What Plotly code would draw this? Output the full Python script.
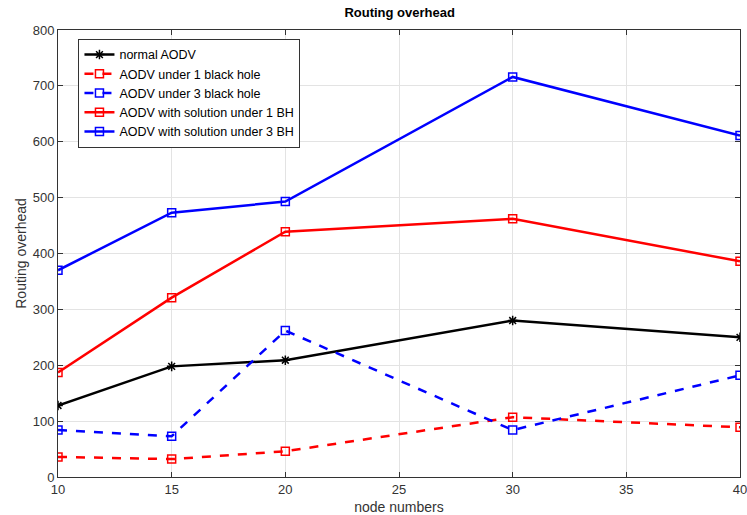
import plotly.graph_objects as go

nodes = [10, 15, 20, 30, 40]
normal_aodv = [128, 198, 209, 280, 250]
aodv_1bh = [36, 32, 46, 107, 89]
aodv_3bh = [84, 73, 262, 84, 182]
sol_1bh = [187, 321, 439, 462, 386]
sol_3bh = [370, 473, 493, 716, 611]

series = [
    ("normal AODV", normal_aodv, "black", "solid", "asterisk-open"),
    ("AODV under 1 black hole", aodv_1bh, "#ff0000", "dash", "square-open"),
    ("AODV under 3 black hole", aodv_3bh, "#0000ff", "dash", "square-open"),
    ("AODV with solution under 1 BH", sol_1bh, "#ff0000", "solid", "square-open"),
    ("AODV with solution under 3 BH", sol_3bh, "#0000ff", "solid", "square-open"),
]

fig = go.Figure()
for name, ys, color, dash, sym in series:
    fig.add_trace(go.Scatter(
        x=nodes, y=ys, name=name, mode="lines+markers",
        line=dict(color=color, width=2.5, dash=dash),
        marker=dict(symbol=sym, size=8, color=color, line=dict(color=color, width=1.5)),
    ))

axis_common = dict(
    showline=True, linecolor="#333333", linewidth=1, mirror="ticks",
    ticks="inside", ticklen=5, tickcolor="#333333",
    showgrid=True, gridcolor="#e3e3e3", gridwidth=1, zeroline=False,
    automargin=False, ticklabeloverflow="allow",
    tickfont=dict(family="Liberation Sans, Arial", size=13, color="#333333"),
)

fig.update_layout(
    width=747, height=515,
    margin=dict(l=58, r=7, t=30, b=38),
    paper_bgcolor="white", plot_bgcolor="white",
    title=dict(text="<b>Routing overhead</b>", x=0.535, xanchor="center", y=0.985, yanchor="top",
               font=dict(family="Liberation Sans, Arial", size=13, color="black")),
    xaxis=dict(range=[10, 40], tickvals=[10, 15, 20, 25, 30, 35, 40],
               title=dict(text="node numbers", standoff=9,
                          font=dict(family="Liberation Sans, Arial", size=14, color="#333333")),
               **axis_common),
    yaxis=dict(range=[0, 800], tickvals=list(range(0, 801, 100)),
               title=dict(text="Routing overhead", standoff=2,
                          font=dict(family="Liberation Sans, Arial", size=14, color="#333333")),
               **axis_common),
    legend=dict(x=0.03, y=0.98, xanchor="left", yanchor="top",
                bgcolor="white", bordercolor="#333333", borderwidth=1,
                font=dict(family="Liberation Sans, Arial", size=12.5, color="black"),
                tracegroupgap=0, itemwidth=30),
    showlegend=True,
)

fig.write_html("out.html")
